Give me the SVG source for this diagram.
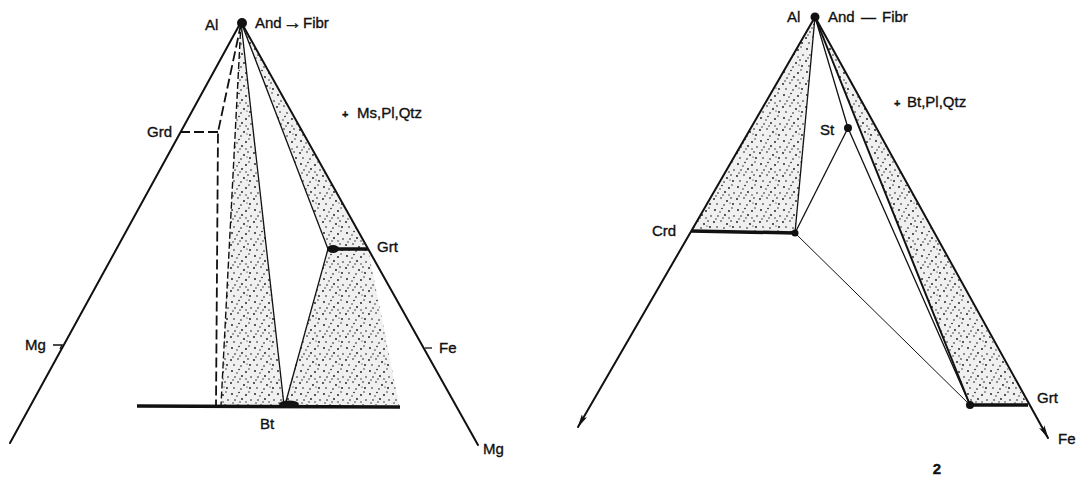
<svg xmlns="http://www.w3.org/2000/svg" width="1076" height="477" viewBox="0 0 1076 477">
<defs>
<pattern id="stip" width="23" height="23" patternUnits="userSpaceOnUse">
<rect width="23" height="23" fill="#f0f0f0"/>
<g fill="#111">
<circle cx="2" cy="3" r="0.9"/><circle cx="9" cy="1.5" r="0.8"/><circle cx="16" cy="4" r="0.9"/><circle cx="21" cy="9" r="0.8"/>
<circle cx="5" cy="9" r="0.8"/><circle cx="12" cy="8" r="0.9"/><circle cx="18" cy="14" r="0.8"/><circle cx="1" cy="15" r="0.9"/>
<circle cx="8" cy="14" r="0.8"/><circle cx="14" cy="17" r="0.9"/><circle cx="4" cy="20" r="0.8"/><circle cx="11" cy="21" r="0.8"/>
<circle cx="20" cy="20" r="0.9"/><circle cx="16" cy="11" r="0.7"/><circle cx="7" cy="5" r="0.7"/><circle cx="10" cy="11" r="0.7"/>
<circle cx="19" cy="1" r="0.7"/><circle cx="3" cy="12" r="0.7"/><circle cx="17" cy="19" r="0.6"/>
</g>
</pattern>
<marker id="arr" viewBox="0 0 14 6" refX="13" refY="3" markerWidth="14" markerHeight="6" markerUnits="userSpaceOnUse" orient="auto">
<path d="M0,0 L14,3 L0,6 L3,3 z" fill="#111"/>
</marker>
<style>
text{font-family:"Liberation Sans",Arial,sans-serif;font-size:15px;fill:#111;stroke:#111;stroke-width:0.35}
.edge{stroke:#111;stroke-width:2;fill:none;stroke-linecap:round}
.thin{stroke:#111;stroke-width:1.3;fill:none}
.hair{stroke:#111;stroke-width:1;fill:none}
.tie{stroke:#111;stroke-width:3.5;fill:none}
.dash{stroke:#111;stroke-width:1.8;fill:none;stroke-dasharray:10 4}
.sdash{stroke:#111;stroke-width:1.4;fill:none;stroke-dasharray:7 3}
.stip{fill:url(#stip);stroke:none}
.dot{fill:#111}
</style>
</defs>
<rect width="1076" height="477" fill="#fff"/>

<!-- ===== Diagram 1 ===== -->
<g id="fields1">
<polygon class="stip" points="241,22 221,405 284,405"/>
<polygon class="stip" points="241,22 328,249 368,249"/>
<polygon class="stip" points="328,249 368,249 399,405 284,405"/>
</g>
<g id="connectors1">
<line class="edge" x1="241" y1="22" x2="10" y2="443"/>
<line class="edge" x1="241" y1="22" x2="478" y2="445"/>
<line class="tie" x1="137" y1="406" x2="400" y2="407"/>
<line class="thin" x1="241" y1="22" x2="284" y2="405"/>
<line class="sdash" x1="241" y1="22" x2="221" y2="405"/>
<line class="thin" x1="241" y1="22" x2="328" y2="249"/>
<line class="thin" x1="328" y1="249" x2="285" y2="405"/>
<line class="tie" x1="328" y1="249" x2="368" y2="249"/>
<polyline class="dash" points="241,24 218,132 216,405"/>
<line class="dash" x1="180" y1="132" x2="218" y2="132"/>
<polyline class="thin" points="53,345 62,345 60,349"/>
<line class="thin" x1="425" y1="348" x2="432" y2="348"/>
</g>
<g id="node-Al-1"><circle class="dot" cx="242" cy="23" r="5"/><text x="205" y="30">Al</text></g>
<g id="node-And-1"><text y="28"><tspan x="255">And</tspan><tspan x="283" font-size="19" y="29">→</tspan><tspan x="303" y="28">Fibr</tspan></text></g>
<g id="node-Grd"><text x="147" y="137">Grd</text></g>
<g id="node-Mg-left"><text x="25" y="350">Mg</text></g>
<g id="node-Fe-1"><text x="439" y="353">Fe</text></g>
<g id="node-Mg-right"><text x="483" y="454">Mg</text></g>
<g id="node-Bt"><ellipse class="dot" cx="289" cy="404" rx="10" ry="3.5"/><text x="260" y="429">Bt</text></g>
<g id="node-Grt-1"><ellipse class="dot" cx="333" cy="249" rx="6" ry="4"/><text x="377" y="252">Grt</text></g>
<g id="label-assemblage-1"><text y="118"><tspan x="342" font-size="11" font-weight="bold">+</tspan><tspan x="357">Ms,Pl,Qtz</tspan></text></g>

<!-- ===== Diagram 2 ===== -->
<g id="fields2">
<polygon class="stip" points="815,17 691,231 795,233"/>
<polygon class="stip" points="815,17 970,405 1028,405"/>
</g>
<g id="connectors2">
<line class="edge" x1="815" y1="17" x2="578" y2="427" marker-end="url(#arr)"/>
<line class="edge" x1="815" y1="17" x2="1048" y2="438" marker-end="url(#arr)"/>
<line class="tie" x1="691" y1="231" x2="795" y2="233"/>
<line class="thin" x1="815" y1="17" x2="795" y2="233"/>
<line class="thin" x1="795" y1="233" x2="848" y2="128"/>
<line class="hair" x1="795" y1="233" x2="970" y2="405"/>
<polyline class="thin" points="815,17 848,128 970,405"/>
<line class="edge" x1="815" y1="17" x2="970" y2="405"/>
<line class="tie" x1="970" y1="405" x2="1028" y2="405"/>
</g>
<g id="node-Al-2"><circle class="dot" cx="815" cy="17" r="4.5"/><text x="787" y="22">Al</text></g>
<g id="node-And-2"><text y="22"><tspan x="828">And</tspan><tspan x="861">—</tspan><tspan x="882">Fibr</tspan></text></g>
<g id="node-St"><circle class="dot" cx="848" cy="128" r="4"/><text x="820" y="135">St</text></g>
<g id="node-Crd"><text x="652" y="236">Crd</text></g>
<g id="node-mid"><circle class="dot" cx="795" cy="233" r="3.5"/></g>
<g id="node-Grt-2"><circle class="dot" cx="970" cy="405" r="4"/><text x="1037" y="403">Grt</text></g>
<g id="node-Fe-2"><text x="1058" y="444">Fe</text></g>
<g id="label-assemblage-2"><text y="107"><tspan x="894" font-size="11" font-weight="bold">+</tspan><tspan x="907">Bt,Pl,Qtz</tspan></text></g>
<g id="label-2"><text x="937" y="474" text-anchor="middle" font-weight="bold" font-size="14">2</text></g>
</svg>
